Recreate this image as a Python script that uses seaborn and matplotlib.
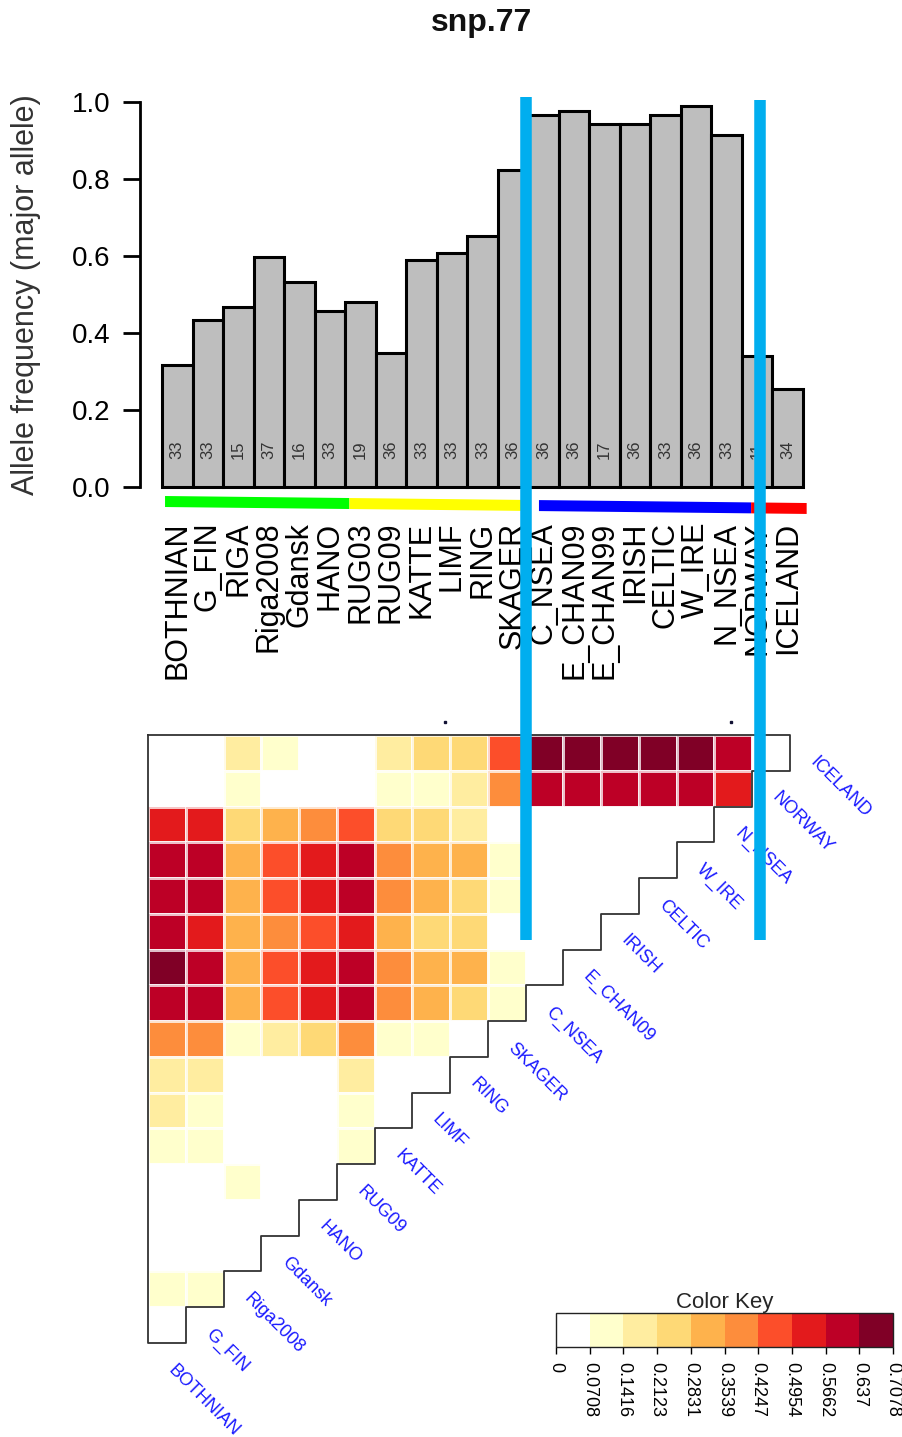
import matplotlib
matplotlib.use('Agg')
import matplotlib.pyplot as plt
import matplotlib.transforms as mtransforms
from matplotlib.lines import Line2D
from matplotlib.colors import ListedColormap, BoundaryNorm
import numpy as np
import pandas as pd
import seaborn as sns

sns.set_theme(style='white')
plt.rcParams['font.family'] = ['Liberation Sans', 'DejaVu Sans']

# --- dados: frequencia do alelo maior por populacao ---
populations = ['BOTHNIAN', 'G_FIN', 'RIGA', 'Riga2008', 'Gdansk', 'HANO', 'RUG03',
               'RUG09', 'KATTE', 'LIMF', 'RING', 'SKAGER', 'C_NSEA', 'E_CHAN09',
               'E_CHAN99', 'IRISH', 'CELTIC', 'W_IRE', 'N_NSEA', 'NORWAY', 'ICELAND']
major_freq = [0.317, 0.434, 0.468, 0.597, 0.532, 0.457, 0.480, 0.348, 0.590, 0.608,
              0.652, 0.823, 0.966, 0.977, 0.943, 0.943, 0.966, 0.990, 0.914, 0.340, 0.255]
sample_n = [33, 33, 15, 37, 16, 33, 19, 36, 33, 33, 33, 36, 36, 36, 17, 36, 33, 36, 33, 11, 34]

# grupos regionais (cores da faixa abaixo das barras)
group_colors = ['#00FF00', '#FFFF00', '#0000FF', '#FF0000']
group_first = [0, 6, 12, 19]
group_last = [5, 11, 18, 20]

# --- dados: Fst par a par (triangulo inferior) ---
fst_pops = ['BOTHNIAN', 'G_FIN', 'Riga2008', 'Gdansk', 'HANO', 'RUG09', 'KATTE', 'LIMF',
            'RING', 'SKAGER', 'C_NSEA', 'E_CHAN09', 'IRISH', 'CELTIC', 'W_IRE', 'N_NSEA',
            'NORWAY', 'ICELAND']
fst_iceland = [0.02, 0.01, 0.17, 0.09, 0.03, 0.00, 0.16, 0.23, 0.26, 0.45, 0.69, 0.70, 0.68, 0.69, 0.70, 0.61, 0.01]
fst_norway = [0.04, 0.01, 0.09, 0.02, 0.00, 0.01, 0.11, 0.12, 0.17, 0.40, 0.62, 0.63, 0.60, 0.60, 0.63, 0.54]
fst_n_nsea = [0.55, 0.52, 0.25, 0.31, 0.38, 0.46, 0.26, 0.24, 0.18, 0.05, 0.00, 0.01, 0.00, 0.00, 0.01]
fst_w_ire = [0.62, 0.60, 0.33, 0.47, 0.54, 0.60, 0.40, 0.33, 0.30, 0.09, 0.00, 0.00, 0.01, 0.00]
fst_celtic = [0.59, 0.57, 0.30, 0.44, 0.51, 0.58, 0.37, 0.30, 0.27, 0.08, 0.00, 0.00, 0.00]
fst_irish = [0.58, 0.55, 0.29, 0.40, 0.47, 0.54, 0.33, 0.26, 0.24, 0.05, 0.00, 0.00]
fst_e_chan09 = [0.65, 0.61, 0.33, 0.47, 0.54, 0.61, 0.40, 0.33, 0.31, 0.09, 0.00]
fst_c_nsea = [0.62, 0.59, 0.31, 0.45, 0.52, 0.59, 0.38, 0.31, 0.27, 0.08]
fst_skager = [0.38, 0.37, 0.09, 0.17, 0.22, 0.38, 0.10, 0.08, 0.03]
fst_ring = [0.16, 0.15, 0.03, 0.01, 0.00, 0.17, 0.00, 0.00]
fst_limf = [0.15, 0.12, 0.02, 0.00, 0.00, 0.13, 0.00]
fst_katte = [0.12, 0.10, 0.01, 0.00, 0.00, 0.11]
fst_rug09 = [0.06, 0.05, 0.08, 0.03, 0.01]
fst_hano = [0.05, 0.03, 0.00, 0.00]
fst_gdansk = [0.02, 0.00, 0.00]
fst_riga2008 = [0.09, 0.08]
fst_g_fin = [0.02]

key_breaks = [0, 0.0708, 0.1416, 0.2123, 0.2831, 0.3539, 0.4247, 0.4954, 0.5662, 0.637, 0.7078]
key_colors = ['#FFFFFF', '#FFFFCC', '#FFEDA0', '#FED976', '#FEB24C', '#FD8D3C',
              '#FC4E2A', '#E31A1C', '#BD0026', '#800026']

W, H = 903, 1437
fig = plt.figure(figsize=(W / 100, H / 100), dpi=100)

# ---------------- grafico de barras ----------------
bax = fig.add_axes([140 / W, 1 - 487 / H, 663 / W, 385 / H])
df_bar = pd.DataFrame({'pop': populations, 'freq': major_freq})
sns.barplot(data=df_bar, x='pop', y='freq', color='#BEBEBE', saturation=1,
            width=1, edgecolor='black', linewidth=2.2, ax=bax)
for p in bax.patches:
    p.set_clip_on(False)
bax.set_xlim(-1.22, 20.5)
bax.set_ylim(0, 1)
for s in ['top', 'right', 'bottom']:
    bax.spines[s].set_visible(False)
bax.spines['left'].set_bounds(0, 1)
bax.spines['left'].set_linewidth(2)
bax.spines['left'].set_color('black')
bax.set_yticks([0, 0.2, 0.4, 0.6, 0.8, 1.0])
bax.set_yticklabels(['0.0', '0.2', '0.4', '0.6', '0.8', '1.0'])
bax.tick_params(axis='y', left=True, direction='out', length=12, width=2,
                labelsize=20, pad=9, colors='black')
bax.set_xticks(range(len(populations)))
bax.set_xticklabels(populations, rotation=90, fontsize=22, va='top', ha='center')
bax.tick_params(axis='x', bottom=False, length=0, pad=25, colors='black')
bax.set_xlabel('')
bax.set_ylabel('Allele frequency (major allele)', fontsize=22, color='#333333')
bax.yaxis.set_label_coords(-0.15, 0.5)

for i, n in enumerate(sample_n):
    bax.text(i, 0.096, str(n), rotation=90, ha='center', va='center',
             fontsize=12, color='#333333')

# faixa colorida inclinada abaixo das barras
x0, x1 = -0.40, 20.62
def strip_y(x, a, b):
    return a + (x - x0) / (x1 - x0) * (b - a)
starts = [-0.40, 5.64, 11.85, 18.80]
ends = [5.64, 11.28, 18.80, 20.62]
for c, xs, xe in zip(group_colors, starts, ends):
    xs_ = [xs, xe, xe, xs]
    ys_ = [strip_y(xs, -0.0234, -0.0416), strip_y(xe, -0.0234, -0.0416),
           strip_y(xe, -0.052, -0.070), strip_y(xs, -0.052, -0.070)]
    bax.fill(xs_, ys_, color=c, clip_on=False, lw=0)

fig.text(482 / W, 1 - 23 / H, 'snp.77', ha='center', va='center',
         fontsize=23, fontweight='bold', color='#111111')

# ---------------- heatmap de Fst ----------------
rows = [fst_iceland, fst_norway, fst_n_nsea, fst_w_ire, fst_celtic, fst_irish,
        fst_e_chan09, fst_c_nsea, fst_skager, fst_ring, fst_limf, fst_katte,
        fst_rug09, fst_hano, fst_gdansk, fst_riga2008, fst_g_fin]
n = len(rows)
mat = np.full((n, n), np.nan)
for r, vals in enumerate(rows):
    mat[r, :len(vals)] = vals
df_fst = pd.DataFrame(mat, index=fst_pops[::-1][:n], columns=fst_pops[:n])

cmap = ListedColormap(key_colors)
norm = BoundaryNorm(key_breaks, cmap.N)

hax = fig.add_axes([148 / W, 1 - 1343 / H, 642 / W, 608 / H])
cax = fig.add_axes([556 / W, 1 - 1347 / H, 337 / W, 34 / H])
sns.heatmap(df_fst, mask=df_fst.isna(), cmap=cmap, norm=norm, ax=hax, cbar_ax=cax,
            cbar_kws={'orientation': 'horizontal', 'ticks': key_breaks},
            linewidths=0.8, linecolor=(1, 1, 1, 0.75),
            xticklabels=False, yticklabels=False)
hax.set_xlabel('')
hax.set_ylabel('')

# contorno em escada
sx, sy = [0, 0], [0, n]
for k in range(n):
    sx += [k + 1, k + 1]
    sy += [n - k, n - k - 1]
sx.append(0)
sy.append(0)
hax.plot(sx, sy, color='#333333', lw=1.3, clip_on=False)
hax.plot([7.86, 15.45], [-0.36, -0.36], ls='none', marker='s', ms=2,
         color='#111133', clip_on=False)

for k, name in enumerate(fst_pops[::-1]):
    hax.text(n - k + 0.6, k + 0.68, name, rotation=-45, rotation_mode='anchor',
             ha='left', va='center', fontsize=13, color='#1a1aff')

# legenda de cores
cbar = hax.collections[0].colorbar
cbar.outline.set_linewidth(1)
cbar.outline.set_edgecolor('#222222')
cbar.ax.set_xticklabels(['%.4g' % b for b in key_breaks], rotation=270,
                        fontsize=13, va='top', ha='center')
cbar.ax.tick_params(axis='x', bottom=True, length=5, width=1, pad=6, colors='black')
cbar.ax.set_title('Color Key', fontsize=16, pad=3)

# linhas azuis de destaque
trans = mtransforms.blended_transform_factory(bax.transData, fig.transFigure)
for xl, ytop in [(11.43, 97), (19.08, 100)]:
    fig.add_artist(Line2D([xl, xl], [1 - ytop / H, 1 - 940 / H], transform=trans,
                          color='#00AEEF', lw=8.3, solid_capstyle='butt', zorder=10))

fig.savefig('out.png', dpi=100)
